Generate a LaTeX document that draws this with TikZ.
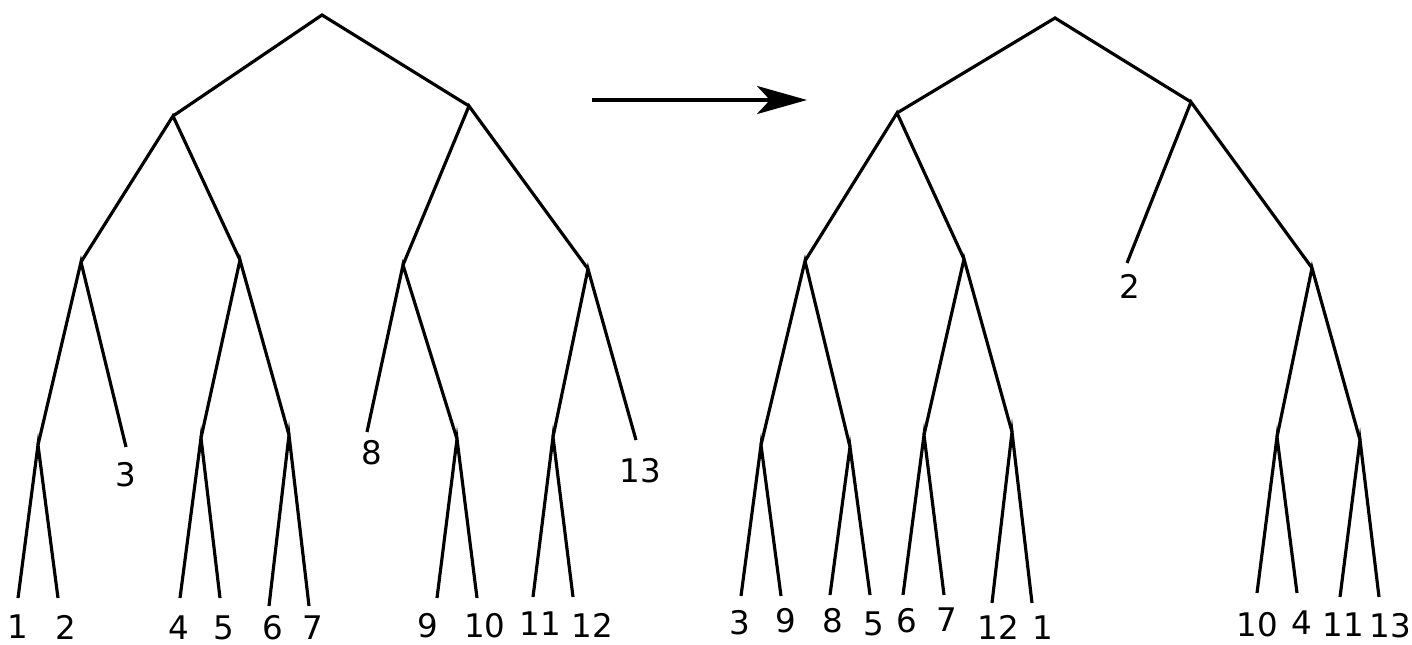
\documentclass[tikz,border=0pt]{standalone}
\usepackage{fontspec}
\setmainfont{DejaVu Sans}
\usetikzlibrary{arrows.meta}
\tikzset{
  edge/.style={line width=1.8pt},
  leaf/.style={inner sep=0pt, font=\fontsize{18.5}{20}\selectfont}
}
\begin{document}
\begin{tikzpicture}[x=0.02cm,y=-0.02cm]
\useasboundingbox (0,0) rectangle (1412,645);

% first tree
\coordinate (a) at (322,15);
\coordinate (al) at (173,116);
\coordinate (ar) at (469,106);
\coordinate (all) at (81,262);
\coordinate (alr) at (240,260);
\coordinate (arl) at (403,265);
\coordinate (arr) at (588,269);
\coordinate (alll) at (38,445);
\coordinate (alrl) at (201,438);
\coordinate (alrr) at (289,435);
\coordinate (arlr) at (457,439);
\coordinate (arrl) at (553,437);

\coordinate (a1) at (18,598);   \node[leaf] (t1) at (18,627) {1};
\coordinate (a2) at (58,598);   \node[leaf] (t2) at (66,627) {2};
\coordinate (a3) at (126,447);  \node[leaf] (t3) at (126,475) {3};
\coordinate (a4) at (180,598);  \node[leaf] (t4) at (179,628) {4};
\coordinate (a5) at (220,598);  \node[leaf] (t5) at (224,628) {5};
\coordinate (a6) at (269,606);  \node[leaf] (t6) at (273,628) {6};
\coordinate (a7) at (309,606);  \node[leaf] (t7) at (313,628) {7};
\coordinate (a8) at (367,432);  \node[leaf] (t8) at (372,453) {8};
\coordinate (a9) at (437,598);  \node[leaf] (t9) at (428,626) {9};
\coordinate (a10) at (477,598); \node[leaf] (t10) at (485,626) {10};
\coordinate (a11) at (533,597); \node[leaf] (t11) at (540,624) {11};
\coordinate (a12) at (573,597); \node[leaf] (t12) at (592,625) {12};
\coordinate (a13) at (636,440); \node[leaf] (t13) at (640,471) {13};

\draw[edge] (al) -- (a) -- (ar);
\draw[edge] (all) -- (al) -- (alr);
\draw[edge] (arl) -- (ar) -- (arr);
\draw[edge] (alll) -- (all) -- (a3);
\draw[edge] (alrl) -- (alr) -- (alrr);
\draw[edge] (a8) -- (arl) -- (arlr);
\draw[edge] (arrl) -- (arr) -- (a13);
\draw[edge] (a1) -- (alll) -- (a2);
\draw[edge] (a4) -- (alrl) -- (a5);
\draw[edge] (a6) -- (alrr) -- (a7);
\draw[edge] (a9) -- (arlr) -- (a10);
\draw[edge] (a11) -- (arrl) -- (a12);

% arrow
\coordinate (from) at (592,100);
\coordinate (to) at (807,100);
\draw[line width=2.2pt, -{Stealth[length=1cm, width=0.56cm, inset=0.26cm]}] (from) -- (to);

% second tree
\coordinate (b) at (1055,18);
\coordinate (bl) at (897,113);
\coordinate (br) at (1191,102);
\coordinate (bll) at (805,261);
\coordinate (blr) at (964,259);
\coordinate (brr) at (1312,268);
\coordinate (blll) at (761,445);
\coordinate (bllr) at (850,447);
\coordinate (blrl) at (924,435);
\coordinate (blrr) at (1012,432);
\coordinate (brrl) at (1277,437);
\coordinate (brrr) at (1360,440);

\coordinate (b2) at (1127,263);  \node[leaf] (u2) at (1130,286) {2};
\coordinate (b3) at (741,596);   \node[leaf] (u3) at (740,623) {3};
\coordinate (b9) at (781,596);   \node[leaf] (u9) at (786,621) {9};
\coordinate (b8) at (830,595);   \node[leaf] (u8) at (833,621) {8};
\coordinate (b5) at (870,595);   \node[leaf] (u5) at (874,624) {5};
\coordinate (b6) at (903,595);   \node[leaf] (u6) at (907,621) {6};
\coordinate (b7) at (944,595);   \node[leaf] (u7) at (947,620) {7};
\coordinate (b12) at (992,603);  \node[leaf] (u12) at (998,627) {12};
\coordinate (b1) at (1032,603);  \node[leaf] (u1) at (1043,628) {1};
\coordinate (b10) at (1257,593); \node[leaf] (u10) at (1257,625) {10};
\coordinate (b4) at (1297,593);  \node[leaf] (u4) at (1302,623) {4};
\coordinate (b11) at (1340,597); \node[leaf] (u11) at (1343,625) {11};
\coordinate (b13) at (1379,597); \node[leaf] (u13) at (1390,626) {13};

\draw[edge] (bl) -- (b) -- (br);
\draw[edge] (bll) -- (bl) -- (blr);
\draw[edge] (b2) -- (br) -- (brr);
\draw[edge] (blll) -- (bll) -- (bllr);
\draw[edge] (blrl) -- (blr) -- (blrr);
\draw[edge] (brrl) -- (brr) -- (brrr);
\draw[edge] (b3) -- (blll) -- (b9);
\draw[edge] (b8) -- (bllr) -- (b5);
\draw[edge] (b6) -- (blrl) -- (b7);
\draw[edge] (b12) -- (blrr) -- (b1);
\draw[edge] (b10) -- (brrl) -- (b4);
\draw[edge] (b11) -- (brrr) -- (b13);

\end{tikzpicture}
\end{document}
